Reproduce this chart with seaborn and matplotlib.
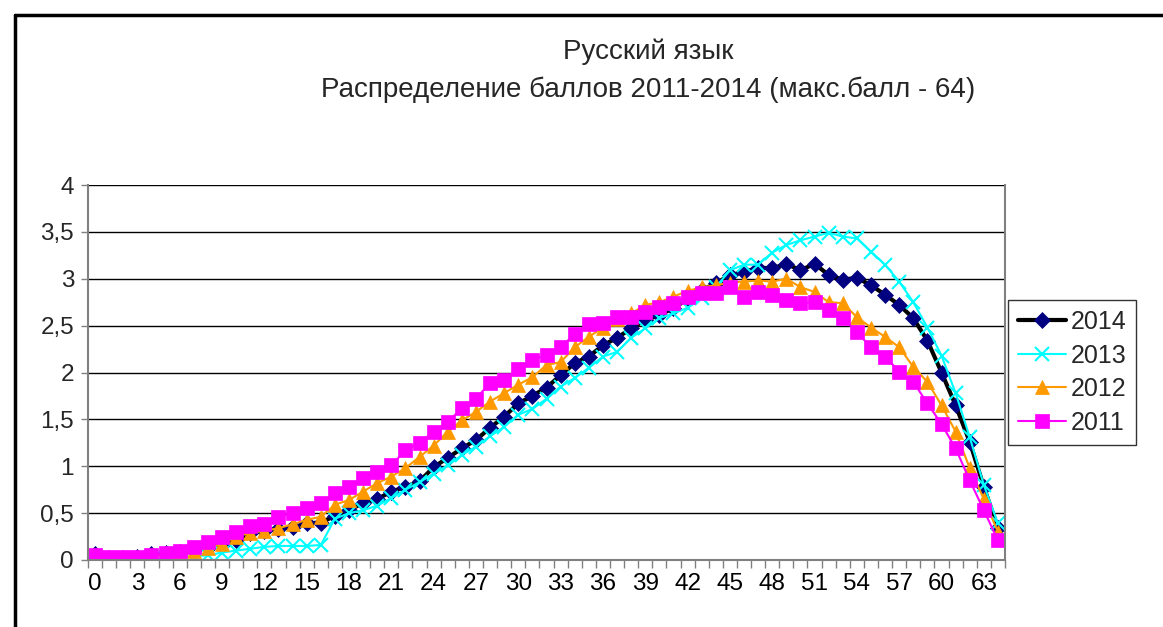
import numpy as np
import pandas as pd
import seaborn as sns
import matplotlib.pyplot as plt
from matplotlib.lines import Line2D

# score 0..64
scores = list(range(65))

# percent of students per score
y2014 = [0.06, 0.02, 0.02, 0.03, 0.06, 0.07, 0.09, 0.11, 0.13, 0.16,
         0.21, 0.29, 0.31, 0.33, 0.35, 0.39, 0.40, 0.47, 0.53, 0.61,
         0.65, 0.73, 0.78, 0.84, 0.99, 1.09, 1.19, 1.28, 1.41, 1.53,
         1.67, 1.75, 1.84, 1.97, 2.10, 2.17, 2.29, 2.37, 2.47, 2.56,
         2.61, 2.69, 2.78, 2.88, 2.95, 3.04, 3.07, 3.12, 3.11, 3.16,
         3.09, 3.16, 3.04, 2.99, 3.01, 2.93, 2.83, 2.72, 2.58, 2.34,
         2.00, 1.65, 1.26, 0.78, 0.34]
y2013 = [0.02, 0.00, 0.00, 0.01, 0.01, 0.02, 0.03, 0.04, 0.05, 0.08,
         0.10, 0.12, 0.14, 0.15, 0.15, 0.15, 0.16, 0.44, 0.50, 0.53,
         0.58, 0.66, 0.75, 0.83, 0.92, 1.01, 1.12, 1.21, 1.32, 1.42,
         1.55, 1.61, 1.72, 1.85, 1.94, 2.05, 2.17, 2.22, 2.37, 2.47,
         2.58, 2.63, 2.69, 2.79, 2.91, 3.09, 3.15, 3.15, 3.28, 3.36,
         3.41, 3.45, 3.49, 3.45, 3.43, 3.29, 3.15, 2.97, 2.75, 2.48,
         2.18, 1.78, 1.31, 0.80, 0.39]
y2012 = [0.03, 0.01, 0.01, 0.02, 0.03, 0.05, 0.07, 0.10, 0.13, 0.17,
         0.25, 0.29, 0.31, 0.34, 0.38, 0.43, 0.46, 0.59, 0.64, 0.73,
         0.82, 0.89, 0.98, 1.10, 1.22, 1.37, 1.49, 1.58, 1.69, 1.78,
         1.87, 1.95, 2.08, 2.11, 2.27, 2.38, 2.48, 2.57, 2.63, 2.72,
         2.75, 2.81, 2.87, 2.91, 2.93, 2.96, 2.97, 2.98, 2.97, 3.00,
         2.91, 2.86, 2.75, 2.74, 2.59, 2.48, 2.38, 2.27, 2.06, 1.90,
         1.65, 1.37, 0.98, 0.65, 0.30]
y2011 = [0.05, 0.03, 0.03, 0.03, 0.05, 0.07, 0.10, 0.14, 0.19, 0.25,
         0.30, 0.36, 0.38, 0.46, 0.50, 0.55, 0.61, 0.71, 0.78, 0.87,
         0.94, 1.01, 1.17, 1.25, 1.37, 1.47, 1.62, 1.72, 1.89, 1.92,
         2.04, 2.13, 2.19, 2.27, 2.41, 2.52, 2.53, 2.59, 2.59, 2.65,
         2.70, 2.74, 2.81, 2.85, 2.85, 2.91, 2.81, 2.86, 2.83, 2.77,
         2.74, 2.75, 2.67, 2.58, 2.43, 2.27, 2.17, 2.01, 1.90, 1.67,
         1.45, 1.19, 0.85, 0.53, 0.21]

years = ['2014', '2013', '2012', '2011']
series = [y2014, y2013, y2012, y2011]

yticks = [0, 0.5, 1, 1.5, 2, 2.5, 3, 3.5, 4]
ytick_labels = ['0', '0,5', '1', '1,5', '2', '2,5', '3', '3,5', '4']
xtick_pos = list(range(0, 64, 3))

title = 'Русский язык\nРаспределение баллов 2011-2014 (макс.балл - 64)'

# long-form table
df = pd.DataFrame({'score': scores * 4,
                   'value': sum(series, []),
                   'year': np.repeat(years, len(scores))})

# line styles per series (Excel look)
styles = {
    '2014': dict(color='black', lw=3, marker='D', ms=8.5, mfc='#000080', mec='#000080'),
    '2013': dict(color='#00FFFF', lw=1.5, marker='x', ms=10, mew=1.5, mec='#00FFFF'),
    '2012': dict(color='#FF9900', lw=1.5, marker='^', ms=10.5, mfc='#FF9900', mec='#FF9900'),
    '2011': dict(color='#FF00FF', lw=1.5, marker='s', ms=10, mfc='#FF00FF', mec='#FF00FF'),
}

sns.set_theme(style='white')
plt.rcParams['font.family'] = ['Liberation Sans', 'DejaVu Sans']

fig = plt.figure(figsize=(11.63, 6.27), dpi=100)
ax = fig.add_axes([88 / 1163, 1 - 560 / 627, 917 / 1163, 375 / 627])

for yr in years:
    st = styles[yr]
    sns.lineplot(data=df[df['year'] == yr], x='score', y='value', ax=ax,
                 color=st['color'], linewidth=st['lw'], marker=st['marker'],
                 markersize=st['ms'], markerfacecolor=st.get('mfc', 'none'),
                 markeredgecolor=st['mec'], markeredgewidth=st.get('mew', 0.5),
                 label=yr, errorbar=None)

ax.set_xlim(-0.5, 64.5)
ax.set_ylim(0, 4)
ax.set_xlabel('')
ax.set_ylabel('')

# category axis: tick marks between categories, labels every 3rd
ax.set_xticks(np.arange(-0.5, 65, 1))
ax.set_xticklabels([])
ax.set_xticks(xtick_pos, minor=True)
ax.set_xticklabels([str(v) for v in xtick_pos], minor=True)
ax.tick_params(axis='x', which='major', length=6, width=1, color='#808080', direction='out', bottom=True)
ax.tick_params(axis='x', which='minor', length=0, labelsize=17.5, pad=9, labelcolor='black')

ax.set_yticks(yticks)
ax.set_yticklabels(ytick_labels)
ax.tick_params(axis='y', length=5, width=1, color='#808080', direction='out', left=True, labelsize=17.5, pad=5)

ax.yaxis.grid(True, color='black', linewidth=1)
ax.xaxis.grid(False)
ax.set_axisbelow(True)
for s in ax.spines.values():
    s.set_color('#808080')
    s.set_linewidth(1.5)
ax.spines['top'].set_visible(False)

# legend box on the right
leg = ax.legend(loc='upper left', bbox_to_anchor=(1008 / 1163, 1 - 300 / 627),
                bbox_transform=fig.transFigure, frameon=True, fancybox=False,
                fontsize=18, handlelength=1.9, handletextpad=0.2,
                borderpad=0.4, labelspacing=0.38, borderaxespad=0)
leg.get_frame().set_edgecolor('black')
leg.get_frame().set_linewidth(1)

fig.text(648 / 1163, 1 - 71 / 627, title, ha='center', va='center',
         fontsize=20, linespacing=1.55)

# outer chart frame (top and left edges)
fig.add_artist(Line2D([15 / 1163, 15 / 1163], [0, 1 - 15 / 627], color='black', lw=2.5,
                      transform=fig.transFigure))
fig.add_artist(Line2D([15 / 1163, 1], [1 - 15 / 627, 1 - 15 / 627], color='black', lw=2.5,
                      transform=fig.transFigure))

fig.savefig('out.png', dpi=100, facecolor='white')
